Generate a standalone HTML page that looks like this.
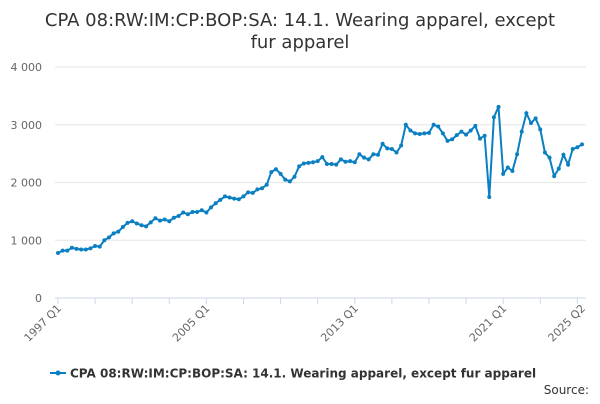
<!DOCTYPE html>
<html><head><meta charset="utf-8"><style>
body{margin:0;background:#fff;font-family:"DejaVu Sans",sans-serif}
svg text{font-family:"DejaVu Sans",sans-serif}
</style></head><body>
<svg width="600" height="400" viewBox="0 0 600 400">
<text x="300" y="26" text-anchor="middle" font-size="18" fill="#333">CPA 08:RW:IM:CP:BOP:SA: 14.1. Wearing apparel, except</text>
<text x="300" y="48" text-anchor="middle" font-size="18" fill="#333">fur apparel</text>
<g id="grid"></g><g id="xaxis"></g><g id="series"></g>
<g>
<line x1="50" y1="373" x2="66" y2="373" stroke="#0a7fc2" stroke-width="2"/>
<circle cx="58" cy="373" r="2.5" fill="#0a7fc2"/>
<text x="70" y="377.5" font-size="12" font-weight="bold" fill="#333">CPA 08:RW:IM:CP:BOP:SA: 14.1. Wearing apparel, except fur apparel</text>
</g>
<text x="589" y="394" text-anchor="end" font-size="12" fill="#333">Source:</text>
</svg>
<script>
const values=[780,820,820,870,850,840,840,860,900,890,1000,1050,1120,1150,1230,1300,1330,1290,1260,1240,1310,1380,1340,1360,1330,1390,1420,1480,1450,1490,1490,1520,
1480,1570,1640,1700,1760,1740,1720,1710,1760,1830,1820,1880,1900,1960,2180,2230,2150,2050,2020,2100,2280,2330,2340,2350,2370,2440,2320,2320,2310,2400,2360,2370,
2350,2490,2430,2400,2490,2480,2670,2590,2580,2520,2640,3000,2900,2850,2840,2850,2860,3000,2970,2850,2720,2750,2820,2880,2830,2900,2980,2760,2810,1750,3130,3310,
2150,2260,2200,2490,2880,3200,3030,3110,2920,2520,2430,2110,2240,2480,2310,2580,2610,2660];
const yTicks=[0,1000,2000,3000,4000];
const yTickLabels=["0","1 000","2 000","3 000","4 000"];
const xTickIdx=[0,32,64,96,113];
const xTickLabels=["1997 Q1","2005 Q1","2013 Q1","2021 Q1","2025 Q2"];
const NS="http://www.w3.org/2000/svg";
const x0=58,x1=582,y0=298,yTop=67;
const xs=i=>x0+(x1-x0)*i/(values.length-1);
const ys=v=>y0-(y0-yTop)*v/4000;
function mk(t,a,p){const e=document.createElementNS(NS,t);for(const k in a)e.setAttribute(k,a[k]);p.appendChild(e);return e;}
const grid=document.getElementById('grid');
yTicks.forEach((v,i)=>{
 const l=mk('line',{x1:55,x2:586,y1:ys(v),y2:ys(v),stroke:i==0?'#ccd6eb':'#e6e6e6','stroke-width':1},grid);
 
 
 const t=mk('text',{x:42,y:ys(v)+4,'text-anchor':'end','font-size':11,fill:'#666'},grid);
 t.textContent=yTickLabels[i];
 
 
});
const xa=document.getElementById('xaxis');
for(let i=0;i<values.length;i+=8){
 const l=mk('line',{x1:xs(i),x2:xs(i),y1:298,y2:304,stroke:'#ccd6eb'},xa);
 
 
}
xTickIdx.forEach((idx,i)=>{
 const x=xs(idx);
 const t=mk('text',{x:x+4,y:309,'text-anchor':'end','font-size':11,fill:'#666',transform:`rotate(-45 ${x+4} 309)`},xa);
 t.textContent=xTickLabels[i];
 
 
});
const s=document.getElementById('series');
const p=mk('path',{d:values.map((v,i)=>(i?'L':'M')+xs(i).toFixed(1)+' '+ys(v).toFixed(1)).join(''),fill:'none',stroke:'#0a7fc2','stroke-width':2},s);


values.forEach((v,i)=>{
 const c=mk('circle',{cx:xs(i),cy:ys(v),r:2,fill:'#0a7fc2'},s);
 
 
});
</script>
</body></html>
